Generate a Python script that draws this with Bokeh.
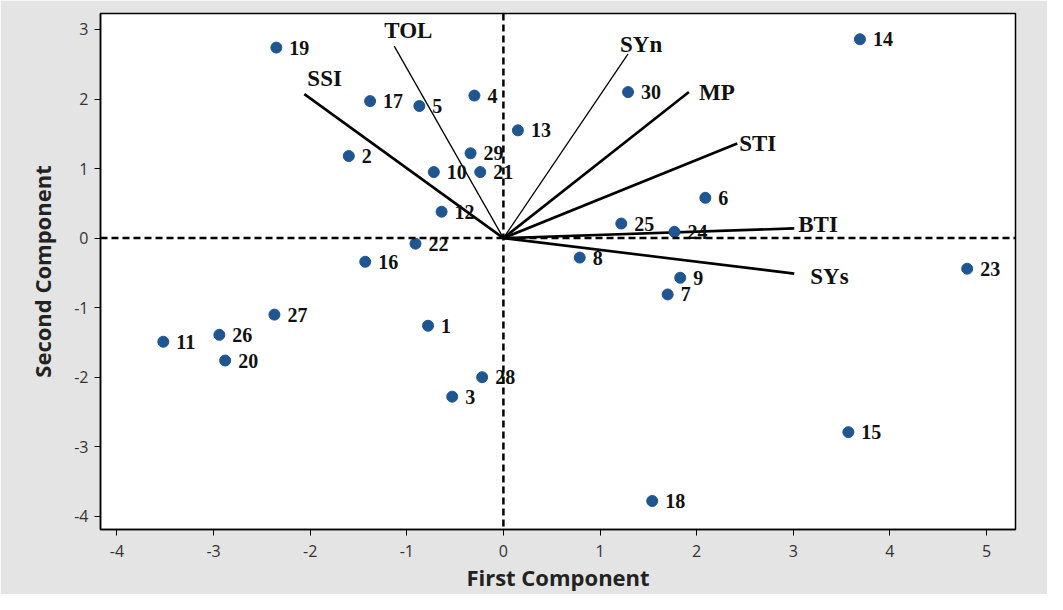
from bokeh.plotting import figure
from bokeh.models import ColumnDataSource, Range1d, Span, FixedTicker
from bokeh.core.properties import value
from bokeh.embed import file_html
from bokeh.resources import INLINE

# ---- data ----
genotypes = [str(i) for i in range(1, 31)]
pc1 = [-0.78, -1.60, -0.53, -0.30, -0.87, 2.09, 1.70, 0.79, 1.83, -0.72,
       -3.52, -0.64, 0.15, 3.69, 3.57, -1.43, -1.38, 1.54, -2.35, -2.88,
       -0.24, -0.91, 4.80, 1.77, 1.22, -2.94, -2.37, -0.22, -0.34, 1.29]
pc2 = [-1.26, 1.18, -2.28, 2.05, 1.90, 0.58, -0.81, -0.28, -0.57, 0.95,
       -1.49, 0.38, 1.55, 2.86, -2.79, -0.34, 1.97, -3.78, 2.74, -1.76,
       0.95, -0.08, -0.44, 0.09, 0.21, -1.39, -1.10, -2.00, 1.22, 2.10]

indices = ["SSI", "TOL", "SYn", "MP", "STI", "BTI", "SYs"]
load1 = [-2.06, -1.13, 1.29, 1.92, 2.42, 3.01, 3.01]
load2 = [2.07, 2.76, 2.65, 2.10, 1.36, 0.14, -0.51]

x_ticks = [-4, -3, -2, -1, 0, 1, 2, 3, 4, 5]
y_ticks = [-4, -3, -2, -1, 0, 1, 2, 3]

# ---- styles (label placement, line widths) ----
vec_width = [2.6, 1.3, 1.3, 2.6, 2.6, 2.6, 2.6]
vec_xoff = [3, -10, -8, 10, 2, 4, 16]
vec_yoff = [-3, -3, 3, 0, 0, -4, 3]
vec_base = ["bottom", "bottom", "bottom", "middle", "middle", "middle", "middle"]

p = figure(width=1047, height=594, output_backend="svg", toolbar_location=None,
           x_range=Range1d(-4.17, 5.30), y_range=Range1d(-4.19, 3.23),
           min_border_left=100, min_border_right=32, min_border_top=13,
           min_border_bottom=57)
p.border_fill_color = "#e4e4e4"
p.background_fill_color = "white"
p.outline_line_color = "black"
p.outline_line_width = 1.5
p.grid.visible = False

p.xaxis.ticker = FixedTicker(ticks=x_ticks)
p.yaxis.ticker = FixedTicker(ticks=y_ticks)
p.xaxis.major_label_overrides = {t: str(t) for t in x_ticks}
p.yaxis.major_label_overrides = {t: str(t) for t in y_ticks}
for ax in (p.xaxis, p.yaxis):
    ax.minor_tick_line_color = None
    ax.major_tick_out = 6
    ax.major_tick_in = 0
    ax.axis_line_width = 1.5
    ax.axis_line_color = "black"
    ax.major_tick_line_color = "black"
    ax.major_label_text_font = "Open Sans"
    ax.major_label_text_font_size = "16px"
    ax.major_label_text_color = "#333333"
    ax.axis_label_text_font = "Open Sans"
    ax.axis_label_text_font_size = "22px"
    ax.axis_label_text_font_style = "bold"
    ax.axis_label_text_color = "#222222"
p.xaxis.axis_label = "First Component"
p.yaxis.axis_label = "Second Component"
p.xaxis.major_label_standoff = 9
p.yaxis.major_label_standoff = 6
p.xaxis.axis_label_standoff = 2
p.yaxis.axis_label_standoff = 14

# reference dashed lines
for dim, loc in (("height", 0), ("width", 0)):
    p.add_layout(Span(location=loc, dimension=dim, line_color="black",
                      line_width=2.5, line_dash="7 4"))

# loading vectors
vsrc = ColumnDataSource(dict(name=indices, x1=load1, y1=load2, x0=[0] * 7, y0=[0] * 7,
                             w=vec_width, xo=vec_xoff, yo=vec_yoff, base=vec_base))
p.segment(x0="x0", y0="y0", x1="x1", y1="y1", line_width="w", line_color="black",
          source=vsrc)
p.text(x="x1", y="y1", text="name", x_offset="xo", y_offset="yo",
       text_baseline="base", text_align="left", source=vsrc,
       text_font=value("Liberation Serif"), text_font_style="bold",
       text_font_size="23px", text_color="#111111")

# genotype scores
psrc = ColumnDataSource(dict(x=pc1, y=pc2, lab=genotypes))
p.scatter(x="x", y="y", size=11, fill_color="#1f5591", line_color="#1f5591",
          source=psrc)
p.text(x="x", y="y", text="lab", x_offset=13, y_offset=0, text_baseline="middle",
       text_align="left", source=psrc, text_font=value("Liberation Serif"),
       text_font_style="bold", text_font_size="20px", text_color="#111111")

open("out.html", "w").write(file_html(p, INLINE))
